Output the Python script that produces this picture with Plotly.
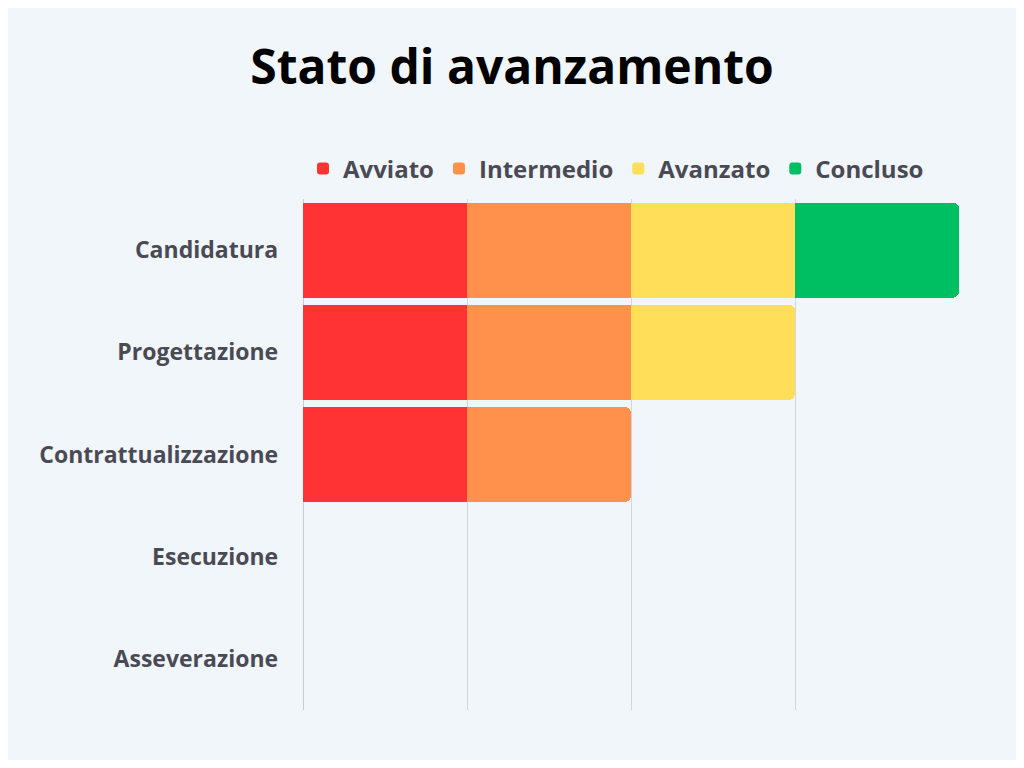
import plotly.graph_objects as go

categories = ["Candidatura", "Progettazione", "Contrattualizzazione", "Esecuzione", "Asseverazione"]
series_names = ["Avviato", "Intermedio", "Avanzato", "Concluso"]
avviato = [1, 1, 1, 0, 0]
intermedio = [1, 1, 1, 0, 0]
avanzato = [1, 1, 0, 0, 0]
concluso = [1, 0, 0, 0, 0]
colors = ["#FF3333", "#FF914D", "#FFDE59", "#00BF63"]

fig = go.Figure()
for name, vals, c in zip(series_names, [avviato, intermedio, avanzato, concluso], colors):
    fig.add_trace(go.Bar(
        y=categories, x=vals, name=name, orientation="h",
        marker=dict(color=c, line=dict(width=0)),
    ))

fig.update_layout(
    barmode="stack",
    bargap=0.07,
    barcornerradius=6,
    width=1008, height=752,
    paper_bgcolor="#F1F6FA",
    plot_bgcolor="#F1F6FA",
    font=dict(family="Open Sans", color="#4A4A55", size=23),
    title=dict(text="<b>Stato di avanzamento</b>", x=0.5, xanchor="center",
               y=0.9215, yanchor="middle",
               font=dict(size=48, color="#000000", family="Open Sans")),
    margin=dict(l=295, r=57, t=191, b=50),
    showlegend=True,
    legend=dict(orientation="h", x=0.0, xanchor="left", y=1.015, yanchor="bottom",
                font=dict(size=24, color="#4A4A55"), itemwidth=30,
                bgcolor="rgba(0,0,0,0)", traceorder="normal"),
    xaxis=dict(range=[0, 4], dtick=1, showticklabels=False, showgrid=True,
               gridcolor="#D3D7DB", gridwidth=1, zeroline=True,
               zerolinecolor="#C8CCD0", zerolinewidth=1, fixedrange=True),
    yaxis=dict(autorange="reversed", showgrid=False, ticks="",
               tickfont=dict(size=23, color="#4A4A55"), ticksuffix="    "),
)
fig.update_yaxes(tickfont=dict(family="Open Sans", weight="bold"))
fig.update_layout(legend_font_weight="bold")

fig.write_html("out.html")
